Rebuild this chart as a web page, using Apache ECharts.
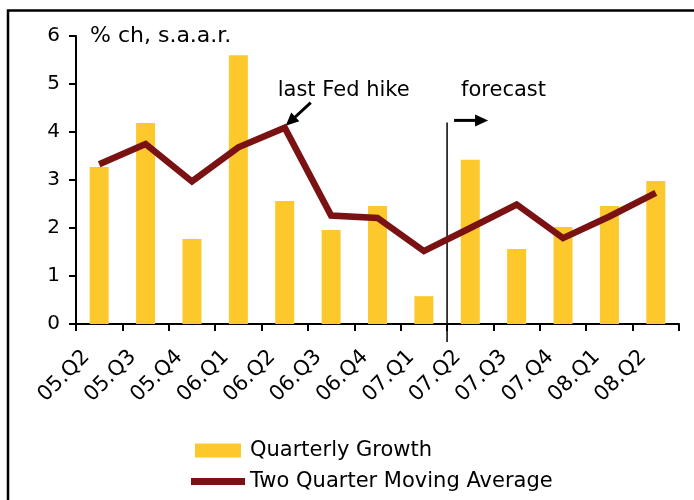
<!DOCTYPE html>
<html>
<head>
<meta charset="utf-8">
<script src="https://cdn.jsdelivr.net/npm/echarts@6/dist/echarts.min.js"></script>
<style>
  html, body { margin: 0; padding: 0; background: #fff; }
  #chart { width: 694px; height: 500px; }
</style>
</head>
<body>
<div id="chart"></div>
<script>
// data
const categories = ['05.Q2', '05.Q3', '05.Q4', '06.Q1', '06.Q2', '06.Q3', '06.Q4',
  '07.Q1', '07.Q2', '07.Q3', '07.Q4', '08.Q1', '08.Q2']
const quarterlyGrowth = [3.27, 4.19, 1.77, 5.6, 2.56, 1.96, 2.46, 0.58, 3.42, 1.56, 2.02, 2.46, 2.98]
const movingAverage = [3.33, 3.75, 2.97, 3.68, 4.09, 2.26, 2.21, 1.52, 2.0, 2.49, 1.79, 2.24, 2.73]
const fedHikeQuarter = '06.Q2'
const lastActualQuarter = '07.Q1'
const firstForecastQuarter = '07.Q2'

const FONT = 'DejaVu Sans'
const BAR_COLOR = '#FDC82C'
const LINE_COLOR = '#7A1214'

const chart = echarts.init(document.getElementById('chart'))

const option = {
  animation: false,
  textStyle: { fontFamily: FONT, color: '#000' },
  grid: { left: 76, right: 15, top: 36, bottom: 176 },
  legend: {
    orient: 'vertical',
    left: 186,
    top: 435,
    itemWidth: 54,
    itemHeight: 14,
    itemGap: 10,
    textStyle: { fontFamily: FONT, fontSize: 21, color: '#000', lineHeight: 20 },
    data: [
      { name: 'Quarterly Growth', icon: 'path://M0,0H46V14H0Z' },
      { name: 'Two Quarter Moving Average', icon: 'path://M0,0H54V7H0Z' }
    ]
  },
  xAxis: {
    type: 'category',
    data: categories,
    boundaryGap: true,
    axisLine: { lineStyle: { color: '#000', width: 2 } },
    axisTick: { show: true, length: 7, lineStyle: { color: '#000', width: 2 } },
    axisLabel: {
      interval: 0,
      rotate: 45,
      margin: 17,
      padding: [0, 18, 0, 0],
      fontSize: 21,
      color: '#000',
      fontFamily: FONT
    },
    splitLine: { show: false }
  },
  yAxis: {
    type: 'value',
    min: 0,
    max: 6,
    interval: 1,
    name: '% ch, s.a.a.r.',
    nameLocation: 'end',
    nameGap: 0,
    nameTextStyle: {
      fontFamily: FONT, fontSize: 22, color: '#000',
      align: 'left', verticalAlign: 'middle', padding: [0, 0, 0, 14]
    },
    axisLine: { show: true, lineStyle: { color: '#000', width: 2 } },
    axisTick: { show: true, length: 7, lineStyle: { color: '#000', width: 2 } },
    axisLabel: { fontSize: 20, color: '#000', margin: 16, fontFamily: FONT },
    splitLine: { show: false }
  },
  series: [
    {
      name: 'Quarterly Growth',
      type: 'bar',
      data: quarterlyGrowth,
      barWidth: 19,
      itemStyle: { color: BAR_COLOR }
    },
    {
      name: 'Two Quarter Moving Average',
      type: 'line',
      data: movingAverage,
      symbol: 'none',
      itemStyle: { color: LINE_COLOR },
      lineStyle: { color: LINE_COLOR, width: 6.5, join: 'miter' }
    }
  ]
}

chart.setOption(option)

// annotations placed from the axes
function arrow(x1, y1, x2, y2, width, headLen, headHalf) {
  const dx = x2 - x1
  const dy = y2 - y1
  const len = Math.sqrt(dx * dx + dy * dy)
  const ux = dx / len
  const uy = dy / len
  const bx = x2 - ux * headLen
  const by = y2 - uy * headLen
  return [
    {
      type: 'line',
      shape: { x1: x1, y1: y1, x2: bx + ux * 2, y2: by + uy * 2 },
      style: { stroke: '#000', lineWidth: width }
    },
    {
      type: 'polygon',
      shape: { points: [[x2, y2], [bx - uy * headHalf, by + ux * headHalf], [bx + uy * headHalf, by - ux * headHalf]] },
      style: { fill: '#000' }
    }
  ]
}

const peak = chart.convertToPixel({ seriesIndex: 1 }, [fedHikeQuarter, movingAverage[categories.indexOf(fedHikeQuarter)]])
const xa = chart.convertToPixel({ xAxisIndex: 0 }, lastActualQuarter)
const xb = chart.convertToPixel({ xAxisIndex: 0 }, firstForecastQuarter)
const split = (xa + xb) / 2
const yTop = chart.convertToPixel({ yAxisIndex: 0 }, 4.2)
const yBase = chart.convertToPixel({ yAxisIndex: 0 }, 0)

const elements = [
  {
    type: 'rect',
    shape: { x: 8, y: 10.5, width: 720, height: 600 },
    style: { fill: 'none', stroke: '#000', lineWidth: 2.5 },
    silent: true
  },
  {
    type: 'line',
    shape: { x1: split, y1: yTop, x2: split, y2: yBase + 18 },
    style: { stroke: '#000', lineWidth: 1.5 }
  },
  {
    type: 'text',
    x: split + 14,
    y: 101,
    style: { text: 'forecast', font: '21px "DejaVu Sans"', fill: '#000', textVerticalAlign: 'bottom' }
  },
  {
    type: 'text',
    x: peak[0] - 7,
    y: 101,
    style: { text: 'last Fed hike', font: '21px "DejaVu Sans"', fill: '#000', textVerticalAlign: 'bottom' }
  }
]
  .concat(arrow(split + 7, yTop - 2, split + 41, yTop - 2, 3, 13, 6))
  .concat(arrow(peak[0] + 26, peak[1] - 25, peak[0] + 1, peak[1] - 2, 3, 13, 6))

chart.setOption({ graphic: { elements: elements } })
</script>
</body>
</html>
